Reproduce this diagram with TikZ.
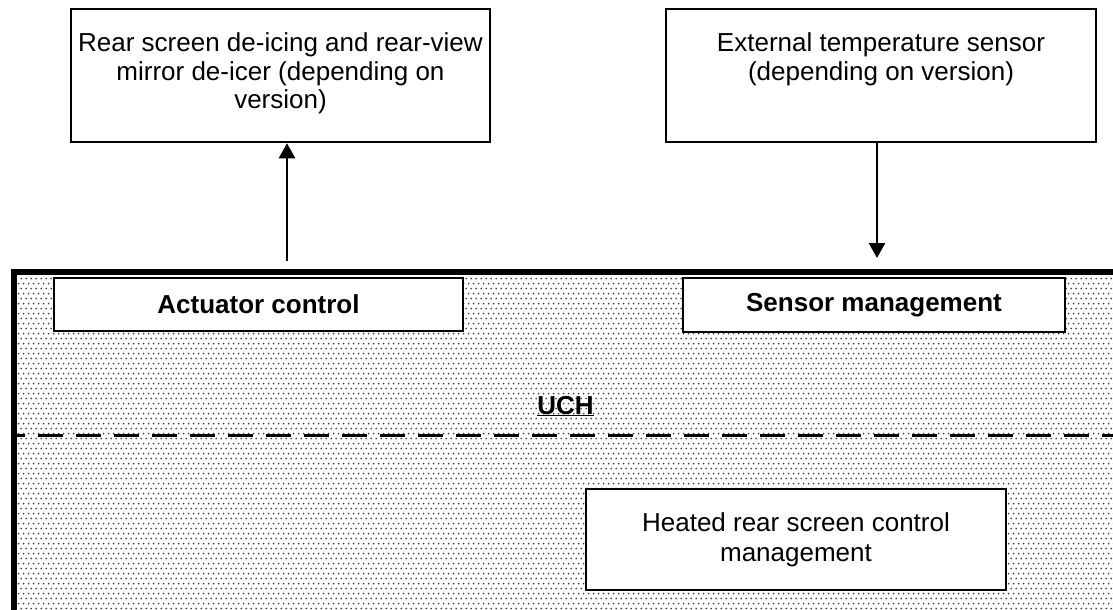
\documentclass[tikz,border=0pt]{standalone}
\usepackage{fontspec}
\setmainfont{Liberation Sans}
\usetikzlibrary{arrows.meta,patterns}
\pgfdeclarepatternformonly{uchdots}{\pgfqpoint{0pt}{0pt}}{\pgfqpoint{5.4pt}{10.4pt}}{\pgfqpoint{5.4pt}{10.4pt}}{%
  \pgfpathcircle{\pgfqpoint{1.35pt}{2.6pt}}{1.05pt}%
  \pgfpathcircle{\pgfqpoint{4.05pt}{7.8pt}}{1.05pt}%
  \pgfusepath{fill}}
\begin{document}
\begin{tikzpicture}[x=1pt,y=-1pt,
  font=\fontsize{26}{28.5}\selectfont,
  outbox/.style={draw, line width=2.5pt, fill=white, inner sep=0pt},
  inbox/.style={draw, line width=2.5pt, fill=white, inner sep=0pt, align=center},
  boxtext/.style={anchor=north, inner sep=0pt, align=center},
  arr/.style={line width=2.5pt, -{Triangle[width=16pt,length=15pt]}},
  dashline/.style={line width=3pt, dash pattern=on 25pt off 13pt, dash phase=13.5pt}]
\useasboundingbox (0,0) rectangle (1113,610);
\fill[white] (0,0) rectangle (1113,610);
\begin{scope}
  \clip (0,0) rectangle (1113,610);
  \node (uch) [draw, line width=6pt, pattern=uchdots, pattern color=black!75,
    minimum width=1200pt, minimum height=400pt, anchor=north west, inner sep=0pt] at (10.5,269) {};
\end{scope}
% top boxes
\node (rear) [outbox, minimum width=419pt, minimum height=133pt] at (280.5,75.5) {};
\node (reartext) [boxtext] at (280.5,32.5) {Rear screen de-icing and rear-view\\mirror de-icer (depending on\\version)};
\node (ext) [outbox, minimum width=430pt, minimum height=133pt] at (881,75.5) {};
\node (exttext) [boxtext] at (881,32.5) {External temperature sensor\\(depending on version)};
% inner boxes
\node (act) [inbox, minimum width=409pt, minimum height=53pt] at (258.5,304.5) {\bfseries Actuator control};
\node (sens) [inbox, minimum width=382pt, minimum height=54pt] at (874,305) {\bfseries Sensor management};
\node (heat) [inbox, minimum width=420pt, minimum height=101pt, font=\fontsize{26}{30}\selectfont] at (796,539.5) {Heated rear screen control\\management};
\node (uchlabel) [anchor=base, inner sep=0pt, font=\fontsize{26}{28}\selectfont\bfseries] at (565.5,414) {\underline{UCH}};
% dashed separator
\coordinate (dashL) at (13.5,435);
\coordinate (dashR) at (1113,435);
\draw[dashline] (dashL) -- (dashR);
% connectors
\coordinate (upfoot) at (287,261);
\coordinate (downtip) at (877,258);
\draw[arr] (upfoot) -- (upfoot |- rear.south);
\draw[arr] (downtip |- ext.south) -- (downtip);
\end{tikzpicture}
\end{document}
